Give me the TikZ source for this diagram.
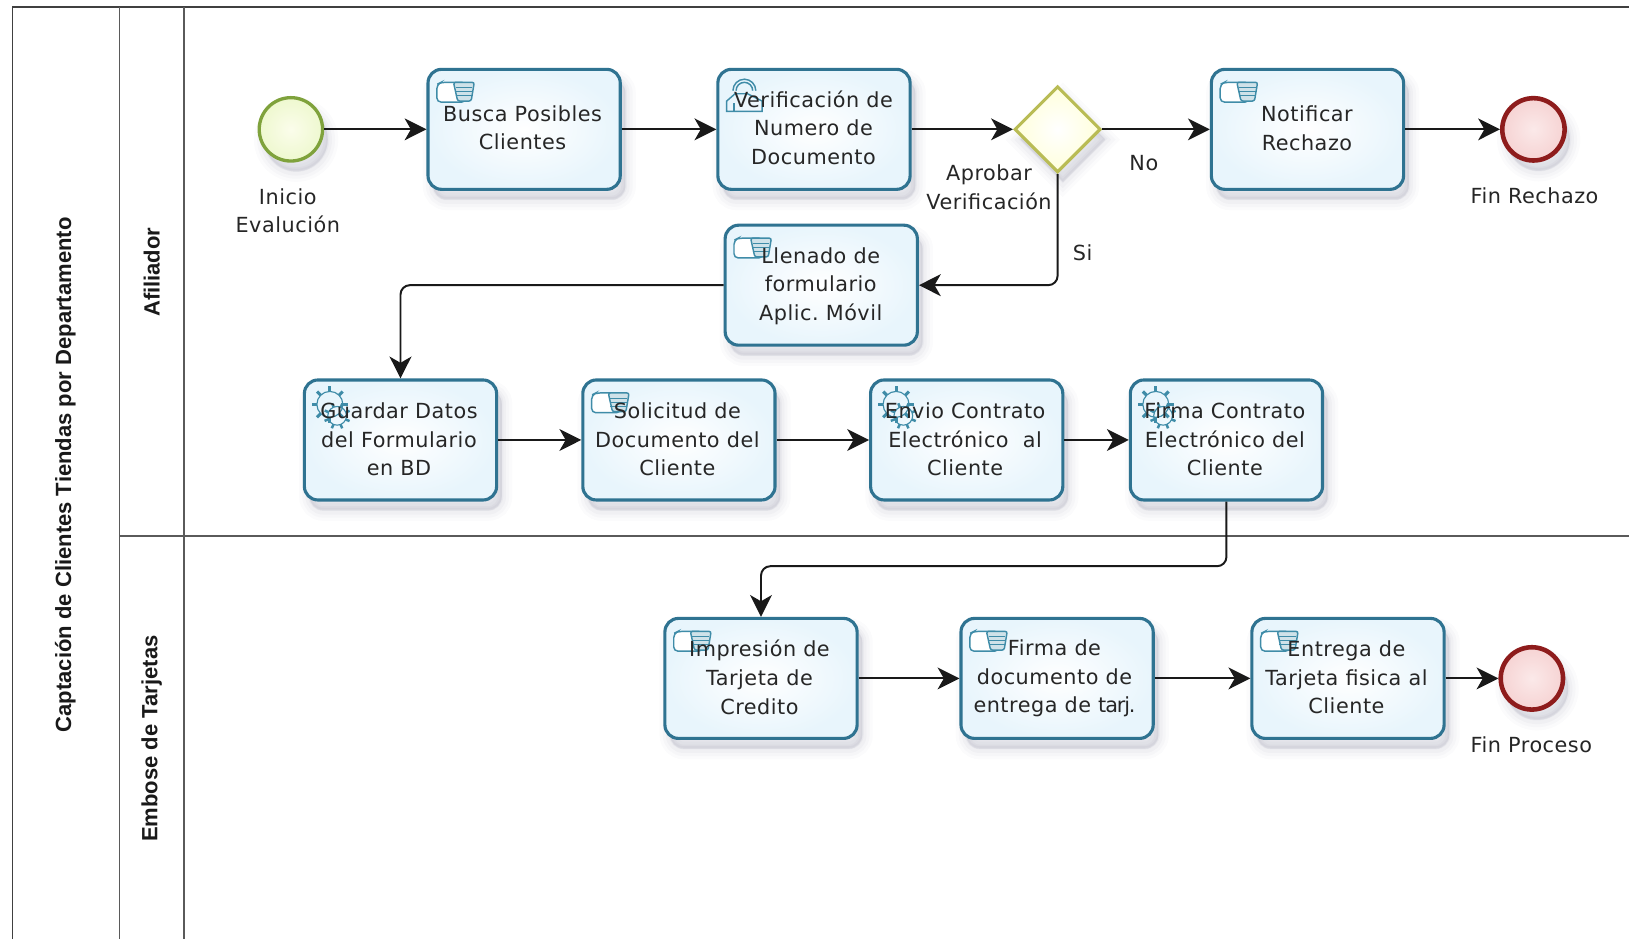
\documentclass[tikz,border=0pt]{standalone}
\usepackage{fontspec}
\setmainfont[LetterSpace=2.5]{DejaVu Sans}
\newfontfamily\titlefont{Liberation Sans}
\newfontfamily\tightfont[LetterSpace=-5.5]{DejaVu Sans}
\usetikzlibrary{arrows.meta,shapes.geometric,calc}
\definecolor{taskline}{HTML}{2F7391}
\definecolor{taskout}{HTML}{E8F5FC}
\definecolor{iconline}{HTML}{3F8CA8}
\definecolor{laneline}{HTML}{5A5A5A}
\definecolor{shadowcol}{HTML}{3A3F66}
\definecolor{startline}{HTML}{7FA23C}
\definecolor{startin}{HTML}{FBFDEB}
\definecolor{startout}{HTML}{EEF8CF}
\definecolor{gateline}{HTML}{B9BC55}
\definecolor{endline}{HTML}{8E1C1C}
\definecolor{endin}{HTML}{FBE9E9}
\definecolor{endout}{HTML}{F6D3D3}
\tikzset{
  x=1pt,y=-1pt,
  softshadow/.style={
    preaction={draw=#1,fill=#1,fill opacity=.02,draw opacity=.02,line width=20pt,transform canvas={shift={(5pt,-10pt)}}},
    preaction={draw=#1,fill=#1,fill opacity=.025,draw opacity=.025,line width=14pt,transform canvas={shift={(5pt,-10pt)}}},
    preaction={draw=#1,fill=#1,fill opacity=.03,draw opacity=.03,line width=8pt,transform canvas={shift={(5pt,-10pt)}}},
    preaction={draw=#1,fill=#1,fill opacity=.035,draw opacity=.035,line width=3pt,transform canvas={shift={(5pt,-9pt)}}}},
  taskbase/.style={softshadow=shadowcol,rectangle,rounded corners=13pt,minimum width=185pt,minimum height=115.5pt,inner sep=0pt,
    draw=taskline,line width=3pt,inner color=white,outer color=taskout},
  tasklabel/.style={align=center,inner sep=0pt,font=\fontsize{20}{27.6}\selectfont,text=black!85},
  startev/.style={softshadow=shadowcol,circle,minimum size=61pt,inner sep=0pt,draw=startline,line width=3.2pt,inner color=startin,outer color=startout},
  endev/.style={softshadow=shadowcol,circle,minimum size=60pt,inner sep=0pt,draw=endline,line width=4.4pt,inner color=endin,outer color=endout},
  gatewaynode/.style={softshadow=shadowcol,diamond,minimum width=83pt,minimum height=83pt,inner sep=0pt,draw=gateline,line width=3pt,inner color=white,outer color=yellow!14},
  flow/.style={draw=black!90,line width=1.9pt,rounded corners=9pt,-{Stealth[length=21pt,width=21pt,inset=6pt]}},
  lanerule/.style={draw=laneline,line width=1.6pt},
  poolrule/.style={draw=black!75,line width=1.6pt},
  lbl/.style={align=center,inner sep=0pt,font=\fontsize{20}{27.6}\selectfont,text=black!85},
  lanetitle/.style={rotate=90,inner sep=0pt,font=\titlefont\bfseries\fontsize{21.2}{24}\selectfont,text=black!90},
  manualicon/.pic={
    \begin{scope}[iconline,line width=1.4pt]
    \draw[rounded corners=4pt,fill=white] (10,16) -- (10,33) -- (38,33) -- (38,14) -- (14,14) -- cycle;
    \draw[fill=iconline!25,rounded corners=2pt] (26,14) -- (46,14) -- (43,32) -- (30,32) -- cycle;
    \foreach \yy in {19,23,27}{\draw[line width=1pt] (28,\yy) -- (44,\yy);}
    \end{scope}},
  usericon/.pic={
    \begin{scope}[iconline,line width=1.4pt]
    \draw (16,22) arc[start angle=180,end angle=0,radius=11pt];
    \draw (19,22) arc[start angle=180,end angle=0,radius=8pt];
    \draw (10,42) -- (10,32) -- (18,25) -- (30,25) -- (44,32) -- (44,42) -- cycle;
    \draw (17,42) -- (17,34);
    \end{scope}},
  gearicon/.pic={
    \begin{scope}[iconline,line width=1.1pt]
    \draw (26,25) circle[radius=12.5pt];
    \foreach \aa in {0,45,...,315}{\draw[line width=3pt] ($(26,25)+(\aa:12.5pt)$) -- ($(26,25)+(\aa:17.5pt)$);}
    \draw (33,36) circle[radius=9pt];
    \foreach \aa in {22,67,...,337}{\draw[line width=2.4pt] ($(33,36)+(\aa:9pt)$) -- ($(33,36)+(\aa:13pt)$);}
    \end{scope}},
}
\begin{document}
\begin{tikzpicture}
\useasboundingbox (0,0) rectangle (1568,904);
\fill[white] (0,0) rectangle (1568,904);
% pool
\coordinate (pnw) at (12,7); \coordinate (pne) at (1568,7); \coordinate (psw) at (12,904);
\coordinate (l1t) at (115,7); \coordinate (l1b) at (115,904);
\coordinate (l2t) at (177,7); \coordinate (l2b) at (177,904);
\coordinate (sl) at (115,516); \coordinate (sr) at (1568,516);
\draw[poolrule] (psw) -- (pnw) -- (pne);
\draw[lanerule] (l1t) -- (l1b);
\draw[lanerule] (l2t) -- (l2b);
\draw[lanerule] (sl) -- (sr);
\node[lanetitle] (pooltitle) at (63,457) {Captación de Clientes Tiendas por Departamento};
\node[lanetitle] (lanea) at (146,262) {Afiliador};
\node[lanetitle] (laneb) at (146,711) {Embose de Tarjetas};
% events
\node[startev] (start) at (280,124.5) {};
\node[gatewaynode] (gw) at (1018,124.5) {};
\node[endev] (endr) at (1476,124.5) {};
\node[endev] (endp) at (1474.5,653) {};
% tasks: box, icon, then text over the icon
\node[taskbase] (busca) at (504.5,124.5) {};
\node[taskbase] (verif) at (783.5,124.5) {};
\node[taskbase] (notif) at (1258.5,124.5) {};
\node[taskbase] (llen) at (790.5,274.5) {};
\node[taskbase] (guard) at (385.5,423.5) {};
\node[taskbase] (solic) at (653.5,423.5) {};
\node[taskbase] (envio) at (930.5,423.5) {};
\node[taskbase] (firma) at (1180.5,423.5) {};
\node[taskbase] (impr) at (732.5,653) {};
\node[taskbase] (fdoc) at (1017.5,653) {};
\node[taskbase] (entr) at (1297.5,653) {};
\pic at (busca.north west) {manualicon};
\pic at (verif.north west) {usericon};
\pic at (notif.north west) {manualicon};
\pic at (llen.north west) {manualicon};
\pic at (guard.north west) {gearicon};
\pic at (solic.north west) {manualicon};
\pic at (envio.north west) {gearicon};
\pic at (firma.north west) {gearicon};
\pic at (impr.north west) {manualicon};
\pic at (fdoc.north west) {manualicon};
\pic at (entr.north west) {manualicon};
\node[tasklabel] (buscat) at (503,123) {Busca Posibles\\Clientes};
\node[tasklabel] (verift) at (783,123) {Verificación de\\Numero de\\Documento};
\node[tasklabel] (notift) at (1258,123.5) {Notificar\\Rechazo};
\node[tasklabel] (llent) at (790,275.5) {Llenado de\\formulario\\Aplic.\ Móvil};
\node[tasklabel] (guardt) at (384,423) {Guardar Datos\\del Formulario\\en BD};
\node[tasklabel] (solict) at (652,423) {Solicitud de\\Documento del\\Cliente};
\node[tasklabel] (enviot) at (929,423) {Envio Contrato\\Electrónico\ \ al\\Cliente};
\node[tasklabel] (firmat) at (1179,423) {Firma Contrato\\Electrónico del\\Cliente};
\node[tasklabel] (imprt) at (731,652) {Impresión de\\Tarjeta de\\Credito};
\node[tasklabel] (fdoct) at (1015,653) {Firma de\\documento de\\entrega de {\tightfont tarj.}};
\node[tasklabel] (entrt) at (1296,652) {Entrega de\\Tarjeta fisica al\\Cliente};
% labels
\node[lbl] (t1) at (277,203) {Inicio\\Evalución};
\node[lbl] (t2) at (1477,188) {Fin Rechazo};
\node[lbl] (t3) at (1474,717) {Fin Proceso};
\node[lbl] (t4) at (952,180) {Aprobar\\Verificación};
\node[lbl] (t5) at (1101,157) {No};
\node[lbl] (t6) at (1042,243) {Si};
% flows
\draw[flow] (start) -- (busca);
\draw[flow] (busca) -- (verif);
\draw[flow] (verif) -- (gw);
\draw[flow] (gw) -- (notif);
\draw[flow] (notif) -- (endr);
\draw[flow] (gw.south) |- (llen.east);
\draw[flow] (llen.west) -| (guard.north);
\draw[flow] (guard) -- (solic);
\draw[flow] (solic) -- (envio);
\draw[flow] (envio) -- (firma);
\coordinate (bend) at (0,545);
\draw[flow] (firma.south) |- (bend -| impr.north) -- (impr.north);
\draw[flow] (impr) -- (fdoc);
\draw[flow] (fdoc) -- (entr);
\draw[flow] (entr) -- (endp);
\end{tikzpicture}
\end{document}
